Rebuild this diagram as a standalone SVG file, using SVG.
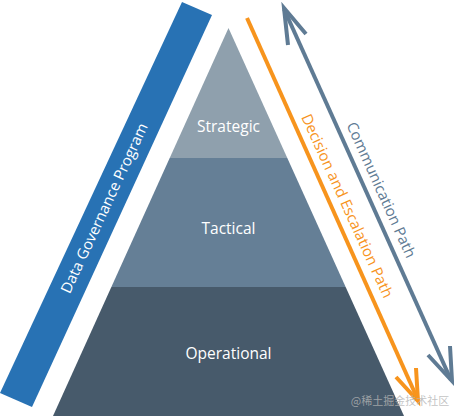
<svg xmlns="http://www.w3.org/2000/svg" width="454" height="416" viewBox="0 0 454 416">
<defs>
<style>
.lbl{font-family:"Open Sans","Liberation Sans",sans-serif;font-size:15.5px;fill:#ffffff;text-anchor:middle}
.path{fill:none;stroke-width:4;stroke-linecap:butt;stroke-linejoin:miter}
.side{font-family:"Open Sans","Liberation Sans",sans-serif;font-size:15px;text-anchor:middle}
</style>
<clipPath id="tri"><polygon points="228.5,28 404,416 53,416"/></clipPath>
</defs>
<rect width="454" height="416" fill="#ffffff"/>
<g id="program">
<polygon points="182,2 212,15 32,407 0,393" fill="#2872b4"/>
<text class="side" x="104" y="208" dy="5.5" fill="#ffffff" font-size="16" transform="rotate(-65 104 208)">Data Governance Program</text>
</g>
<g id="pyramid" clip-path="url(#tri)">
<rect id="strategic" x="0" y="0" width="454" height="158" fill="#8fa0ad"/>
<rect id="tactical" x="0" y="158" width="454" height="129" fill="#657f96"/>
<rect id="operational" x="0" y="287" width="454" height="129" fill="#475a6b"/>
</g>
<g id="labels">
<text class="lbl" x="228.5" y="132">Strategic</text>
<text class="lbl" x="228.5" y="234">Tactical</text>
<text class="lbl" x="228.5" y="359">Operational</text>
</g>
<g id="connectors">
<g id="decision">
<line class="path" x1="247" y1="18" x2="418" y2="400" stroke="#f7941d"/>
<polyline class="path" points="396,377 418,401 416,368" stroke="#f7941d"/>
</g>
<g id="communication">
<line class="path" x1="284" y1="9" x2="451" y2="380" stroke="#5f7b94"/>
<polyline class="path" points="288,45 284,8 306,34" stroke="#5f7b94"/>
<polyline class="path" points="428,355 452,381 450,346" stroke="#5f7b94"/>
</g>
</g>
<text class="side" x="347" y="206" dy="5" fill="#f7941d" transform="rotate(65.5 347 206)">Decision and Escalation Path</text>
<text class="side" x="381" y="190" dy="5" fill="#5f7b94" transform="rotate(65.7 381 190)">Communication Path</text>
<text x="400" y="405" font-family="'Noto Sans CJK SC',sans-serif" font-size="11" fill="#b4b4b4" fill-opacity="0.8" text-anchor="middle">@稀土掘金技术社区</text>
</svg>
